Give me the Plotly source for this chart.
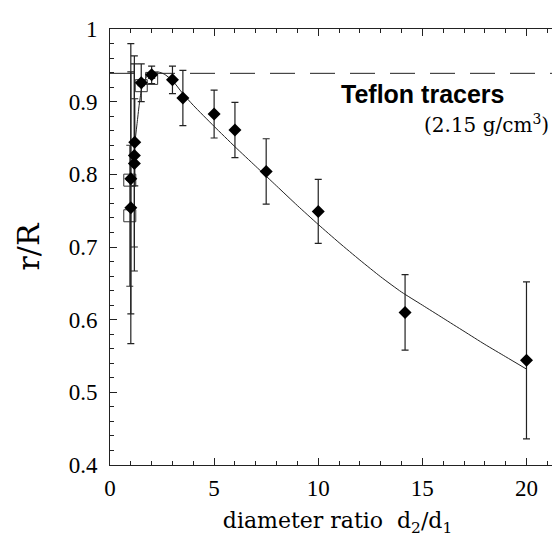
import plotly.graph_objects as go

# ---- data ----
diamond_x = [1.0, 1.0, 1.17, 1.17, 1.19, 1.5, 2.0, 3.0, 3.5, 5.0, 6.0, 7.5, 10.0, 14.17, 20.0]
diamond_y = [0.754, 0.794, 0.815, 0.826, 0.844, 0.926, 0.937, 0.930, 0.905, 0.883, 0.861, 0.804, 0.749, 0.610, 0.544]
diamond_err = [0.187, 0.186, 0.148, 0.126, 0.06, 0.026, 0.012, 0.019, 0.038, 0.033, 0.038, 0.045, 0.044, 0.052, 0.108]

square_x = [0.95, 0.95, 1.5, 2.0]
square_y = [0.743, 0.792, 0.922, 0.932]
square_err = [0.097, 0.0, 0.0, 0.0]

curve_x = [1.2, 1.3, 1.4, 1.5, 1.6, 1.8, 2.0, 2.3, 2.6, 3.0, 3.5, 4.0, 5, 6, 7, 8, 9, 10,
           11, 12, 13, 14, 15, 16, 17, 18, 19, 20]
curve_y = [0.845, 0.870, 0.895, 0.915, 0.926, 0.936, 0.940, 0.941, 0.938, 0.929, 0.911, 0.895,
           0.866, 0.838, 0.811, 0.784, 0.757, 0.731, 0.706, 0.682, 0.659, 0.638, 0.620, 0.602,
           0.584, 0.566, 0.549, 0.532]

plateau_y = 0.939
x_range = [0, 21.85]
y_range = [0.4, 1.0]
x_ticks = [0, 5, 10, 15, 20]
y_ticks = [0.4, 0.5, 0.6, 0.7, 0.8, 0.9, 1.0]
y_ticklabels = ["0.4", "0.5", "0.6", "0.7", "0.8", "0.9", "1"]

SERIF = "DejaVu Serif, Liberation Serif, serif"
TICKSERIF = "Liberation Serif, DejaVu Serif, serif"
L, R, T, B = 102, 3, 21, 82
W, H = 560, 539
PW, PH = W - L - R, H - T - B

fig = go.Figure()

fig.add_trace(go.Scatter(
    x=x_range, y=[plateau_y, plateau_y], mode="lines",
    line=dict(color="#222", width=1, dash="25px,15px"), hoverinfo="skip"))

fig.add_trace(go.Scatter(
    x=curve_x, y=curve_y, mode="lines",
    line=dict(color="#222", width=1, shape="spline", smoothing=0.6)))

fig.add_trace(go.Scatter(
    x=square_x, y=square_y, mode="markers",
    marker=dict(symbol="square-open", size=12, color="#333", line=dict(width=1)),
    error_y=dict(type="data", array=square_err, color="#333", thickness=1, width=3.5)))

fig.add_trace(go.Scatter(
    x=diamond_x, y=diamond_y, mode="markers",
    marker=dict(symbol="diamond", size=10, color="black"),
    error_y=dict(type="data", array=diamond_err, color="#222", thickness=1.2, width=3.5)))

fig.add_annotation(x=(414 - L) / PW, y=1 - (86 - T) / PH, xref="x domain", yref="y domain",
                   text="<b>Teflon tracers</b>", showarrow=False, xanchor="center", yanchor="middle",
                   font=dict(family="Liberation Sans, Arial, sans-serif", size=25, color="black"))
fig.add_annotation(x=(543 - L) / PW, y=1 - (116 - T) / PH, xref="x domain", yref="y domain",
                   text="(2.15 g/cm<sup>3</sup>)", showarrow=False, xanchor="right", yanchor="middle",
                   font=dict(family=SERIF, size=20, color="black"))

axis_common = dict(
    showline=True, linecolor="#222", linewidth=1, mirror="allticks",
    ticks="inside", ticklen=7, tickcolor="#222", tickwidth=1,
    showgrid=False, zeroline=False, automargin=False,
    tickfont=dict(family=TICKSERIF, size=23, color="black"),
)

fig.update_xaxes(range=x_range, tickvals=x_ticks, **axis_common,
                 minor=dict(ticks="inside", ticklen=4, dtick=1, tickcolor="#222", showgrid=False),
                 ticklabelstandoff=2,
                 title=dict(text="diameter ratio  d<sub>2</sub>/d<sub>1</sub>",
                            font=dict(family=SERIF, size=22, color="black"), standoff=13))
fig.update_yaxes(range=y_range, tickvals=y_ticks, ticktext=y_ticklabels, **axis_common,
                 minor=dict(ticks="inside", ticklen=4, dtick=0.02, tickcolor="#222", showgrid=False),
                 ticklabelstandoff=7,
                 title=dict(text="r/R", font=dict(family=SERIF, size=30, color="black"), standoff=20))

fig.update_layout(
    width=W, height=H, showlegend=False,
    margin=dict(l=L, r=R, t=T, b=B),
    plot_bgcolor="white", paper_bgcolor="white",
)

fig.write_html("out.html")
